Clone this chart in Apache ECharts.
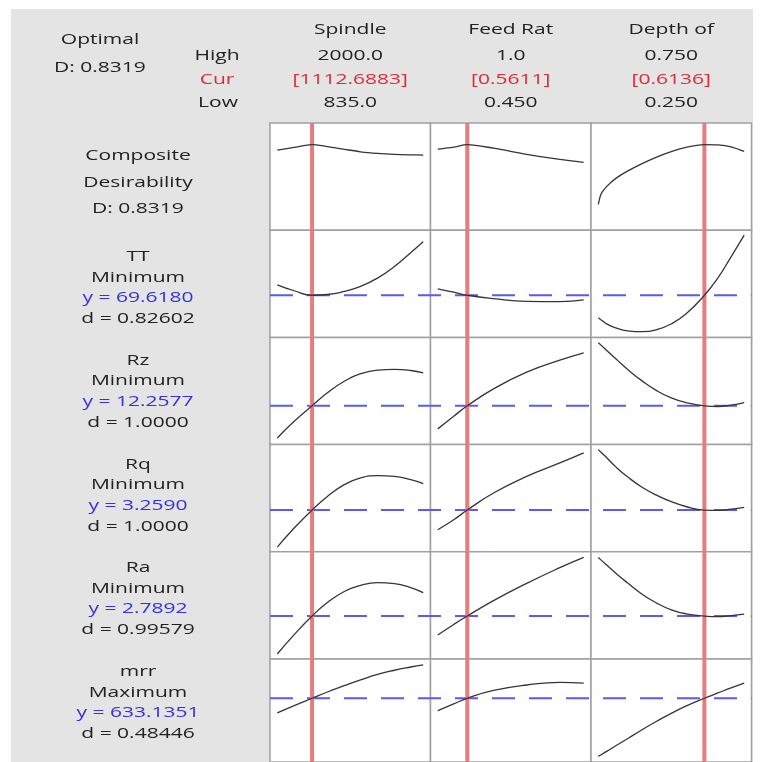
<!DOCTYPE html>
<html>
<head>
<meta charset="utf-8">
<script src="https://cdn.jsdelivr.net/npm/echarts@6/dist/echarts.min.js"></script>
<style>
  html, body { margin: 0; padding: 0; background: #fff; }
  #chart { width: 760px; height: 762px; }
</style>
</head>
<body>
<div id="chart"></div>
<script>
// ---- factors (columns) ----
const factorNames = ['Spindle', 'Feed Rat', 'Depth of'];
const factorLow = [835, 0.45, 0.25];
const factorHigh = [2000, 1.0, 0.75];
const factorCur = [1112.6883, 0.5611, 0.6136];
const highLabels = ['2000.0', '1.0', '0.750'];
const curLabels = ['[1112.6883]', '[0.5611]', '[0.6136]'];
const lowLabels = ['835.0', '0.450', '0.250'];

// sample settings along each factor
const spindleX = [835, 970, 1112.6883, 1235, 1370, 1500, 1635, 1770, 1900, 2000];
const feedX = [0.45, 0.51, 0.5611, 0.66, 0.785, 0.91, 1.0];
const depthX = [0.25, 0.26, 0.28, 0.31, 0.35, 0.40, 0.45, 0.50, 0.55, 0.6136, 0.66, 0.705, 0.75];

// ---- composite desirability ----
const compositeD = 0.8319;
const dSpindle = [0.777, 0.804, 0.8319, 0.812, 0.785, 0.760, 0.744, 0.734, 0.729, 0.727];
const dFeed = [0.787, 0.807, 0.8319, 0.796, 0.734, 0.684, 0.653];
const dDepth = [0.229, 0.338, 0.414, 0.492, 0.565, 0.641, 0.707, 0.762, 0.805, 0.8319, 0.829, 0.810, 0.764];

// ---- responses (rows) ----
const responseNames = ['TT', 'Rz', 'Rq', 'Ra', 'mrr'];
const responseGoals = ['Minimum', 'Minimum', 'Minimum', 'Minimum', 'Maximum'];
const responseY = [69.6180, 12.2577, 3.2590, 2.7892, 633.1351];
const responseD = ['0.82602', '1.0000', '1.0000', '0.99579', '0.48446'];

const ttSpindle = [72.25, 70.75, 69.618, 69.80, 70.58, 71.83, 73.93, 76.83, 80.33, 83.08];
const ttFeed = [71.25, 70.40, 69.618, 68.75, 68.08, 68.00, 68.43];
const ttDepth = [63.93, 63.40, 62.35, 61.40, 60.65, 60.43, 60.93, 62.40, 64.88, 69.618, 74.00, 79.30, 84.75];

const rzSpindle = [9.56, 10.96, 12.2577, 13.35, 14.32, 14.95, 15.25, 15.31, 15.22, 15.03];
const rzFeed = [10.32, 11.38, 12.2577, 13.68, 15.08, 16.09, 16.71];
const rzDepth = [17.55, 17.33, 16.88, 16.20, 15.32, 14.35, 13.53, 12.92, 12.53, 12.2577, 12.20, 12.31, 12.53];

const rqSpindle = [2.586, 2.932, 3.2590, 3.508, 3.721, 3.843, 3.885, 3.872, 3.812, 3.739];
const rqFeed = [2.901, 3.083, 3.2590, 3.570, 3.872, 4.116, 4.299];
const rqDepth = [4.359, 4.308, 4.206, 4.045, 3.865, 3.675, 3.530, 3.412, 3.324, 3.2590, 3.253, 3.275, 3.307];

const raSpindle = [2.269, 2.535, 2.7892, 2.975, 3.125, 3.210, 3.248, 3.235, 3.180, 3.111];
const raFeed = [2.530, 2.674, 2.7892, 3.000, 3.237, 3.452, 3.593];
const raDepth = [3.592, 3.556, 3.485, 3.376, 3.244, 3.089, 2.967, 2.875, 2.820, 2.7892, 2.781, 2.796, 2.815];

const mrrSpindle = [533.6, 583.0, 633.1351, 675.6, 718.8, 758.1, 795.3, 823.5, 845.7, 860.7];
const mrrFeed = [548.7, 594.5, 633.1351, 686.1, 723.4, 741.0, 736.4];
const mrrDepth = [237.9, 249.7, 273.9, 310.6, 358.3, 419.2, 476.7, 530.4, 579.4, 633.1351, 669.1, 703.7, 736.4];

// ---- assembling ----
const factorX = [spindleX, feedX, depthX];
const rowCurves = [
  [dSpindle, dFeed, dDepth],
  [ttSpindle, ttFeed, ttDepth],
  [rzSpindle, rzFeed, rzDepth],
  [rqSpindle, rqFeed, rqDepth],
  [raSpindle, raFeed, raDepth],
  [mrrSpindle, mrrFeed, mrrDepth]
];
// vertical scale of each row (shared across its three panels)
const rowRange = [[-0.03, 1.05], [59, 86], [9, 18], [2.5, 4.45], [2.2, 3.67], [200, 900]];

// layout
const PANEL_LEFT = 270, COL_W = 160.5, ROW_TOP = 123, ROW_H = 107.2;
const X_PAD = 0.05;
const TEXT_SX = 1.4;
const FONT = 'normal 15px "Open Sans", "Noto Sans", sans-serif';
const INK = '#222222', RED = '#dc2d37', BLUE = '#3232e0';

const grids = [], xAxes = [], yAxes = [], series = [];

function addGrid(g, xr, yr) {
  grids.push(g);
  const idx = grids.length - 1;
  xAxes.push({ type: 'value', gridIndex: idx, min: xr[0], max: xr[1], show: false });
  yAxes.push({ type: 'value', gridIndex: idx, min: yr[0], max: yr[1], show: false });
  return idx;
}
function factorRange(c) {
  const span = factorHigh[c] - factorLow[c];
  return [factorLow[c] - X_PAD * span, factorHigh[c] + X_PAD * span];
}

// panel grids with response curves
for (let r = 0; r < rowCurves.length; r++) {
  for (let c = 0; c < 3; c++) {
    const idx = addGrid({
      left: PANEL_LEFT + c * COL_W, top: ROW_TOP + r * ROW_H,
      width: COL_W, height: ROW_H,
      show: true, backgroundColor: '#ffffff', borderColor: '#a0a0a0', borderWidth: 1.5
    }, factorRange(c), rowRange[r]);
    series.push({
      type: 'line', xAxisIndex: idx, yAxisIndex: idx, z: 5,
      data: factorX[c].map((x, i) => [x, rowCurves[r][c][i]]),
      smooth: r === 0 ? 0.3 : 0.5,
      symbol: 'none', silent: true,
      lineStyle: { color: '#353535', width: 1.3 }
    });
  }
}

// dashed reference line across each response row
for (let r = 1; r < rowCurves.length; r++) {
  const idx = addGrid({
    left: PANEL_LEFT, top: ROW_TOP + r * ROW_H, width: 3 * COL_W, height: ROW_H, show: false
  }, [0, 1], rowRange[r]);
  const yv = responseY[r - 1];
  series.push({
    type: 'line', xAxisIndex: idx, yAxisIndex: idx, z: 3,
    data: [[0, yv], [1, yv]], symbol: 'none', silent: true,
    lineStyle: { color: '#5a5af5', width: 2, type: [23, 14] }
  });
}

// current setting line down each factor column
for (let c = 0; c < 3; c++) {
  const idx = addGrid({
    left: PANEL_LEFT + c * COL_W, top: ROW_TOP, width: COL_W, height: rowCurves.length * ROW_H, show: false
  }, factorRange(c), [0, 1]);
  series.push({
    type: 'line', xAxisIndex: idx, yAxisIndex: idx, z: 4,
    data: [[factorCur[c], 0], [factorCur[c], 1]], symbol: 'none', silent: true,
    lineStyle: { color: '#e87b7e', width: 4 }
  });
}

// ---- text ----
const graphics = [{
  type: 'rect', z: -10, silent: true,
  shape: { x: 11, y: 9, width: 742, height: 760 },
  style: { fill: '#e4e4e4' }
}];
function label(x, y, text, color) {
  graphics.push({
    type: 'text', x: x, y: y, scaleX: TEXT_SX, silent: true, z: 10,
    style: {
      text: text, x: 0, y: 0, fill: color || INK, font: FONT,
      textAlign: 'center', textVerticalAlign: 'middle', align: 'center', verticalAlign: 'middle'
    }
  });
}

label(100, 40, 'Optimal');
label(100, 68, 'D: ' + compositeD.toFixed(4));
label(217, 56, 'High');
label(217, 80, 'Cur', RED);
label(218, 103, 'Low');

for (let c = 0; c < 3; c++) {
  const cx = PANEL_LEFT + (c + 0.5) * COL_W;
  label(cx, 30, factorNames[c]);
  label(cx, 56, highLabels[c]);
  label(cx, 80, curLabels[c], RED);
  label(cx, 103, lowLabels[c]);
}

const LEFT_CX = 138;
label(LEFT_CX, 156, 'Composite');
label(LEFT_CX, 183, 'Desirability');
label(LEFT_CX, 209, 'D: ' + compositeD.toFixed(4));

for (let i = 0; i < responseNames.length; i++) {
  const y0 = 257 + i * 103.7;
  label(LEFT_CX, y0, responseNames[i]);
  label(LEFT_CX, y0 + 20.5, responseGoals[i]);
  label(LEFT_CX, y0 + 41, 'y = ' + responseY[i].toFixed(4), BLUE);
  label(LEFT_CX, y0 + 62, 'd = ' + responseD[i]);
}

const chart = echarts.init(document.getElementById('chart'), null, { renderer: 'canvas' });
chart.setOption({
  backgroundColor: '#ffffff',
  animation: false,
  grid: grids,
  xAxis: xAxes,
  yAxis: yAxes,
  series: series,
  graphic: { elements: graphics }
});
</script>
</body>
</html>
